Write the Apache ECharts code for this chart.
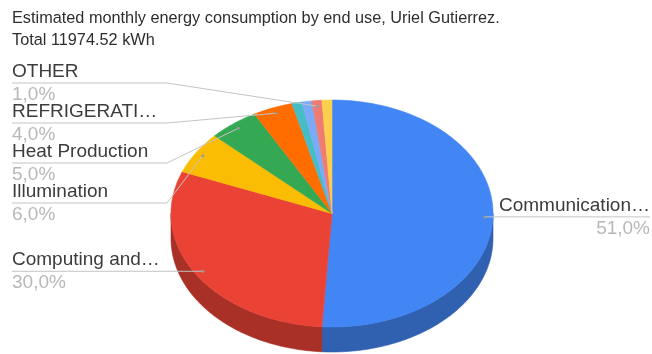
<!DOCTYPE html>
<html>
<head>
<meta charset="utf-8">
<script src="https://cdn.jsdelivr.net/npm/echarts/dist/echarts.min.js"></script>
<style>
html, body { margin: 0; padding: 0; background: #fff; }
#chart { width: 652px; height: 354px; }
</style>
</head>
<body>
<div id="chart"></div>
<script>
// estimated monthly energy use by end use (kWh), total 11974.52
const categories = ['Communication…', 'Computing and…', 'Illumination', 'Heat Production', 'REFRIGERATI…', 'Cooking', 'Laundry', 'OTHER', 'Water Heating']
const kwh = [6106.99, 3592.36, 718.47, 598.73, 478.98, 119.75, 119.75, 119.75, 119.74]
const showLabel = [true, true, true, true, true, false, false, true, false]

const colors = ['#4285F4', '#EA4335', '#FBBC04', '#34A853', '#FF6D01', '#46BDC6', '#7BAAF7', '#F07B72', '#FCD04F']
const FONT = '"Liberation Sans", Arial, sans-serif'

// pie geometry (3d look: squashed ellipse + side wall)
const cx = 332, cy = 213.5, rx = 161, ry = 113.5, depth = 25
const labelGap = 40, labelTop = 83

const total = kwh.reduce((a, b) => a + b, 0)
const starts = [], ends = []
let acc = 0
kwh.forEach(v => {
  starts.push(acc / total * Math.PI * 2)
  acc += v
  ends.push(acc / total * Math.PI * 2)
})

function dark (hex) {
  let n = parseInt(hex.slice(1), 16)
  let r = Math.round((n >> 16) * 0.72), g = Math.round(((n >> 8) & 255) * 0.72), b = Math.round((n & 255) * 0.72)
  return 'rgb(' + r + ',' + g + ',' + b + ')'
}
// angle is clockwise from 12 o'clock
function pt (a, k, dy) {
  return [cx + rx * k * Math.sin(a), cy - ry * k * Math.cos(a) + dy]
}
function arc (a0, a1, dy) {
  let n = Math.max(2, Math.ceil((a1 - a0) / (Math.PI / 180)))
  let out = []
  for (let j = 0; j <= n; j++) out.push(pt(a0 + (a1 - a0) * j / n, 1, dy))
  return out
}
function pctText (v) {
  return (v / total * 100).toFixed(1).replace('.', ',') + '%'
}

// label rows: stacked from the top on each side, bottom one sits on its anchor
const labelY = {}
function layoutSide (idx) {
  idx.sort((a, b) => pt((starts[a] + ends[a]) / 2, 0.95, 0)[1] - pt((starts[b] + ends[b]) / 2, 0.95, 0)[1])
  idx.forEach((i, n) => {
    let ay = pt((starts[i] + ends[i]) / 2, 0.95, 0)[1]
    let y = labelTop + labelGap * n
    if (n === idx.length - 1) y = Math.max(y, ay)
    labelY[i] = y
  })
}
let leftIdx = [], rightIdx = []
kwh.forEach((v, i) => {
  if (!showLabel[i]) return
  if ((starts[i] + ends[i]) / 2 > Math.PI) leftIdx.push(i)
  else rightIdx.push(i)
})
layoutSide(leftIdx)
layoutSide(rightIdx)

function renderWall (params, api) {
  let i = params.dataIndex
  let s = Math.max(starts[i], Math.PI / 2), e = Math.min(ends[i], Math.PI * 1.5)
  if (e <= s) return { type: 'group', children: [] }
  let pts = arc(s, e, 0).concat(arc(s, e, depth).reverse())
  return {
    type: 'polygon',
    shape: { points: pts },
    style: { fill: dark(colors[i]), stroke: dark(colors[i]), lineWidth: 0.6 }
  }
}

function renderFace (params, api) {
  let i = params.dataIndex
  let pts = [[cx, cy]].concat(arc(starts[i], ends[i], 0))
  return {
    type: 'polygon',
    shape: { points: pts },
    style: { fill: colors[i], stroke: colors[i], lineWidth: 0.6 }
  }
}

function renderLabel (params, api) {
  let i = params.dataIndex
  if (!showLabel[i]) return { type: 'group', children: [] }
  let mid = (starts[i] + ends[i]) / 2
  let anc = pt(mid, 0.95, 0)
  let y = labelY[i]
  let left = mid > Math.PI
  let line = left
    ? [[12, y], [Math.min(167, anc[0]), y], anc]
    : [anc, [Math.max(485, anc[0]), y], [650, y]]
  let tx = left ? 12 : 650
  let align = left ? 'left' : 'right'
  return {
    type: 'group',
    children: [
      { type: 'polyline', shape: { points: line }, style: { stroke: '#c4c4c4', lineWidth: 1, fill: null } },
      { type: 'circle', shape: { cx: anc[0], cy: anc[1], r: 1.5 }, style: { fill: '#999' } },
      {
        type: 'text',
        style: { text: categories[i], x: tx, y: y - 2, align: align, textAlign: align, verticalAlign: 'bottom', textVerticalAlign: 'bottom', font: '19px ' + FONT, fill: '#3c3c3c' }
      },
      {
        type: 'text',
        style: { text: pctText(api.value(0)), x: tx, y: y + 2, align: align, textAlign: align, verticalAlign: 'top', textVerticalAlign: 'top', font: '19px ' + FONT, fill: '#b8b8b8' }
      }
    ]
  }
}

const chart = echarts.init(document.getElementById('chart'))
chart.setOption({
  animation: false,
  title: {
    text: 'Estimated monthly energy consumption by end use, Uriel Gutierrez.\nTotal 11974.52 kWh',
    left: 12,
    top: 8,
    padding: 0,
    textStyle: { fontSize: 16.3, fontWeight: 'normal', color: '#2e2e2e', lineHeight: 22, fontFamily: FONT }
  },
  series: [
    { type: 'custom', name: 'wall', coordinateSystem: 'none', renderItem: renderWall, data: kwh, z: 1 },
    { type: 'custom', name: 'face', coordinateSystem: 'none', renderItem: renderFace, data: kwh, z: 2 },
    { type: 'custom', name: 'label', coordinateSystem: 'none', renderItem: renderLabel, data: kwh, z: 3 }
  ]
})
</script>
</body>
</html>
